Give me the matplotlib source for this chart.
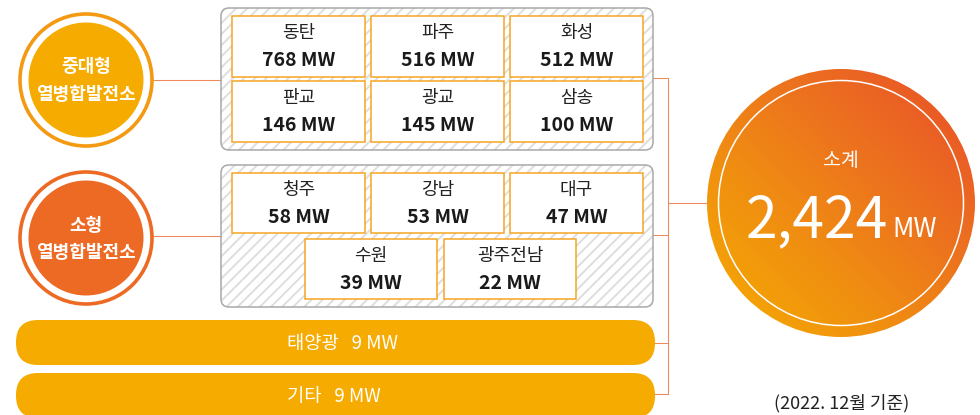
import numpy as np
import matplotlib
matplotlib.use('Agg')
import matplotlib.pyplot as plt
from matplotlib.patches import Circle, FancyBboxPatch, Rectangle
from matplotlib.colors import LinearSegmentedColormap

plt.rcParams['font.family'] = ['Noto Sans CJK KR', 'DejaVu Sans']
plt.rcParams['hatch.linewidth'] = 1.4

# data
mid_names = ['동탄', '파주', '화성', '판교', '광교', '삼송']
mid_mw = [768, 516, 512, 146, 145, 100]
small_names = ['청주', '강남', '대구', '수원', '광주전남']
small_mw = [58, 53, 47, 39, 22]
other_names = ['태양광', '기타']
other_mw = [9, 9]
group_labels = ['중대형\n열병합발전소', '소형\n열병합발전소']
total_label = '소계'
note = '(2022. 12월 기준)'

total = sum(mid_mw) + sum(small_mw) + sum(other_mw)

AMBER = '#F6AB00'
ORANGE = '#EC6A24'
LINE = '#F08A5A'
CELL_EDGE = '#F5A623'

fig = plt.figure(figsize=(9.8, 4.15), dpi=100)
ax = fig.add_axes([0, 0, 1, 1])
ax.set_xlim(0, 980)
ax.set_ylim(415, 0)
ax.axis('off')

lw1 = 0.75  # ~1px


def group_box(x0, y0, x1, y1):
    hatch = FancyBboxPatch((x0, y0), x1 - x0, y1 - y0,
                           boxstyle='round,pad=0,rounding_size=8',
                           facecolor='white', edgecolor='#DEDEDE', lw=0,
                           hatch='///', zorder=1)
    ax.add_patch(hatch)
    border = FancyBboxPatch((x0, y0), x1 - x0, y1 - y0,
                            boxstyle='round,pad=0,rounding_size=8',
                            facecolor='none', edgecolor='#A8A8A8', lw=1.1,
                            zorder=2)
    ax.add_patch(border)


def cell(x0, y0, w, h, name, mw):
    ax.add_patch(Rectangle((x0, y0), w, h, facecolor='white',
                           edgecolor=CELL_EDGE, lw=1.1, zorder=3))
    cx = x0 + w / 2
    ax.text(cx, y0 + 17, name, ha='center', va='center', fontsize=13,
            color='#222222', zorder=4)
    ax.text(cx, y0 + 44, f'{mw} MW', ha='center', va='center', fontsize=14,
            fontweight='bold', color='#1a1a1a', zorder=4)


def ring_circle(cx, cy, label, ring_color, fill_color):
    ax.add_patch(Circle((cx, cy), 66, facecolor='white', edgecolor=ring_color,
                        lw=2.6, zorder=3))
    ax.add_patch(Circle((cx, cy), 57.5, facecolor=fill_color,
                        edgecolor='none', zorder=4))
    top, bottom = label.split('\n')
    ax.text(cx, cy - 13, top, ha='center', va='center', fontsize=13,
            fontweight='bold', color='white', zorder=5)
    ax.text(cx, cy + 14, bottom, ha='center', va='center', fontsize=13,
            fontweight='bold', color='white', zorder=5)


# connector lines
ax.plot([153, 221], [80, 80], color=LINE, lw=lw1, zorder=2)
ax.plot([153, 221], [236, 236], color=LINE, lw=lw1, zorder=2)
ax.plot([653, 668], [78, 78], color=LINE, lw=lw1, zorder=0)
ax.plot([653, 668], [235, 235], color=LINE, lw=lw1, zorder=0)
ax.plot([650, 668], [343, 343], color=LINE, lw=lw1, zorder=0)
ax.plot([650, 668], [394, 394], color=LINE, lw=lw1, zorder=0)
ax.plot([668, 668], [78, 394], color=LINE, lw=lw1, zorder=0)
ax.plot([668, 710], [203, 203], color=LINE, lw=lw1, zorder=0)

# group circles
ring_circle(86, 80, group_labels[0], '#F39A12', AMBER)
ring_circle(86, 238, group_labels[1], ORANGE, ORANGE)

# mid-large group
group_box(221, 8, 653, 150)
col_x = [232, 371, 510]
cw, ch = 133, 61
for i, (n, v) in enumerate(zip(mid_names, mid_mw)):
    r, c = divmod(i, 3)
    cell(col_x[c], [16, 81][r], cw, ch, n, v)

# small group
group_box(221, 165, 653, 307)
small_pos = [(232, 173), (371, 173), (510, 173), (305, 239), (444, 239)]
for (x0, y0), n, v in zip(small_pos, small_names, small_mw):
    cell(x0, y0, 132 if y0 > 200 else cw, 60, n, v)

# pills
for y0, n, v in zip([320, 373], other_names, other_mw):
    ax.add_patch(FancyBboxPatch((16, y0), 639, 45,
                                boxstyle='round,pad=0,rounding_size=22',
                                facecolor=AMBER, edgecolor='none', zorder=3))
    ax.text(287, y0 + 23, f'{n}   {v} MW', ha='left', va='center',
            fontsize=13.5, color='white', zorder=4)

# total circle with gradient
cx, cy, R = 841, 203, 134
cmap = LinearSegmentedColormap.from_list(
    'tot', ['#F6AD00', '#F09010', '#EC6E20', '#E84E2A'])
N = 300
g = np.linspace(0, 1, N)
gx, gy = np.meshgrid(g, g)
grad = (gx + gy) / 2
im = ax.imshow(grad, cmap=cmap, origin='lower',
               extent=(cx - R, cx + R, cy + R, cy - R),
               aspect='auto', zorder=3, interpolation='bilinear')
clip = Circle((cx, cy), R, transform=ax.transData)
im.set_clip_path(clip)
ax.add_patch(Circle((cx, cy), 122.5, facecolor='none', edgecolor='white',
                    lw=1.1, zorder=4))
ax.text(cx, 160, total_label, ha='center', va='center', fontsize=14,
        color='white', zorder=5)
ax.text(888, 237, f'{total:,}', ha='right', va='baseline', fontsize=41,
        fontweight='medium', color='white', zorder=5)
ax.text(892, 237, 'MW', ha='left', va='baseline', fontsize=19,
        fontweight='medium', color='white', zorder=5)

ax.text(842, 403, note, ha='center', va='center', fontsize=13,
        color='#222222', zorder=5)

ax.set_xlim(0, 980)
ax.set_ylim(415, 0)
fig.savefig('out.png', dpi=100)
